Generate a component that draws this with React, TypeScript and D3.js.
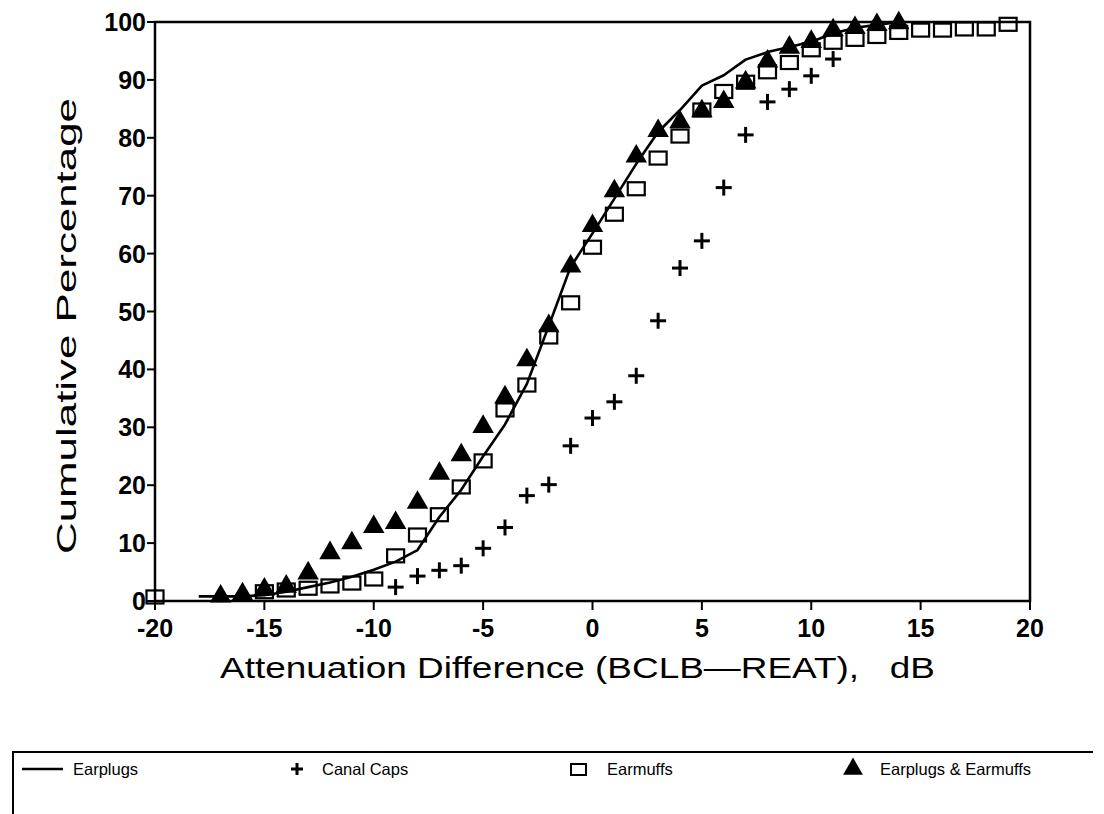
import React from "react";
import * as d3 from "d3";

// Earplugs: cumulative distribution drawn as a solid line
const earplugsX = [-18, -17, -16, -15, -14, -13, -12, -11, -10, -9, -8, -7, -6, -5, -4, -3, -2, -1, 0, 1, 2, 3, 4, 5, 6, 7, 8, 9, 10, 11, 12, 13, 14];
const earplugsY = [0.8, 0.8, 0.8, 1.0, 1.6, 2.4, 3.2, 4.2, 5.4, 6.8, 8.8, 14.5, 19.2, 25.0, 30.5, 37.5, 47.5, 57.7, 63.5, 69.5, 75.5, 81.0, 84.8, 89.0, 90.8, 93.5, 94.8, 95.7, 96.6, 98.0, 99.0, 99.5, 100];

// Canal caps: plus markers
const canalX = [-9, -8, -7, -6, -5, -4, -3, -2, -1, 0, 1, 2, 3, 4, 5, 6, 7, 8, 9, 10, 11];
const canalY = [2.4, 4.3, 5.3, 6.1, 9.1, 12.7, 18.2, 20.1, 26.8, 31.6, 34.4, 38.9, 48.4, 57.5, 62.2, 71.4, 80.5, 86.2, 88.4, 90.7, 93.6];

// Earmuffs: open squares
const earmuffsX = [-20, -15, -14, -13, -12, -11, -10, -9, -8, -7, -6, -5, -4, -3, -2, -1, 0, 1, 2, 3, 4, 5, 6, 7, 8, 9, 10, 11, 12, 13, 14, 15, 16, 17, 18, 19];
const earmuffsY = [0.7, 1.6, 1.9, 2.2, 2.6, 3.1, 3.8, 7.8, 11.4, 14.9, 19.7, 24.2, 33.0, 37.3, 45.6, 51.5, 61.1, 66.8, 71.2, 76.5, 80.3, 84.8, 88.0, 89.6, 91.4, 93.0, 95.2, 96.5, 97.0, 97.5, 98.2, 98.6, 98.6, 98.8, 98.8, 99.6];

// Earplugs & earmuffs combined: filled triangles
const comboX = [-17, -16, -15, -14, -13, -12, -11, -10, -9, -8, -7, -6, -5, -4, -3, -2, -1, 0, 1, 2, 3, 4, 5, 6, 7, 8, 9, 10, 11, 12, 13, 14];
const comboY = [0.8, 1.2, 2.0, 2.5, 4.8, 8.3, 10.0, 12.8, 13.5, 17.0, 22.0, 25.2, 30.1, 35.2, 41.6, 47.5, 57.8, 64.8, 70.8, 76.8, 81.2, 82.7, 84.6, 86.2, 89.6, 93.2, 95.6, 96.6, 98.6, 99.0, 99.5, 99.8];

const xTicks = [-20, -15, -10, -5, 0, 5, 10, 15, 20];
const yTicks = [0, 10, 20, 30, 40, 50, 60, 70, 80, 90, 100];

const legendItems = ["Earplugs", "Canal Caps", "Earmuffs", "Earplugs & Earmuffs"];

const W = 1104;
const H = 814;
const left = 155;
const right = 1030;
const top = 22;
const bottom = 601;

export default function App() {
  const x = d3.scaleLinear().domain([-20, 20]).range([left, right]);
  const y = d3.scaleLinear().domain([0, 100]).range([bottom, top]);

  const linePath = d3
    .line<number>()
    .x((_, i) => x(earplugsX[i]))
    .y((d) => y(d))(earplugsY) as string;

  const tri = d3.symbol().type(d3.symbolTriangle).size(200)() as string;
  const triSmall = d3.symbol().type(d3.symbolTriangle).size(170)() as string;

  const tickFont = "'Liberation Sans', Arial, sans-serif";
  const titleFont = "'Liberation Sans', Arial, sans-serif";

  const plus = (cx: number, cy: number, key: string, s = 8) => (
    <g key={key} stroke="#000" strokeWidth={3}>
      <line x1={cx - s} x2={cx + s} y1={cy} y2={cy} />
      <line x1={cx} x2={cx} y1={cy - s} y2={cy + s} />
    </g>
  );

  const legendY = 769;

  return (
    <svg
      width={W}
      height={H}
      viewBox={`0 0 ${W} ${H}`}
      style={{ position: "absolute", left: 0, top: 0, background: "#fff" }}
    >
      <rect x={0} y={0} width={W} height={H} fill="#fff" />

      {/* plot frame */}
      <rect
        x={left}
        y={top}
        width={right - left}
        height={bottom - top}
        fill="none"
        stroke="#000"
        strokeWidth={2.5}
      />

      {/* y axis ticks and labels */}
      {yTicks.map((t) => (
        <g key={`yt${t}`}>
          <line x1={left - 8} x2={left} y1={y(t)} y2={y(t)} stroke="#000" strokeWidth={2} />
          <text
            x={left - 9}
            y={y(t)}
            dy="0.36em"
            textAnchor="end"
            fontFamily={tickFont}
            fontWeight="bold"
            fontSize={25}
          >
            {t}
          </text>
        </g>
      ))}

      {/* x axis ticks and labels */}
      {xTicks.map((t) => (
        <g key={`xt${t}`}>
          <line x1={x(t)} x2={x(t)} y1={bottom} y2={bottom + 9} stroke="#000" strokeWidth={2} />
          <text
            x={x(t)}
            y={bottom + 36}
            textAnchor="middle"
            fontFamily={tickFont}
            fontWeight="bold"
            fontSize={25}
          >
            {t < 0 ? `-${Math.abs(t)}` : t}
          </text>
        </g>
      ))}

      {/* axis titles */}
      <text
        transform={`translate(66, 326) rotate(-90)`}
        textAnchor="middle"
        dy="0.35em"
        fontFamily={titleFont}
        fontSize={28}
        textLength={456}
        lengthAdjust="spacingAndGlyphs"
      >
        Cumulative Percentage
      </text>
      <text
        x={(220 + 935) / 2}
        y={668}
        dy="0.35em"
        textAnchor="middle"
        fontFamily={titleFont}
        fontSize={29}
        textLength={715}
        lengthAdjust="spacingAndGlyphs"
        style={{ whiteSpace: "pre" }}
      >
        {"Attenuation Difference (BCLB\u2014REAT),   dB"}
      </text>

      {/* earplugs line */}
      <path d={linePath} fill="none" stroke="#000" strokeWidth={2.6} strokeLinejoin="round" />

      {/* canal caps */}
      {canalY.map((v, i) => plus(x(canalX[i]), y(v), `c${i}`))}

      {/* earmuffs */}
      {earmuffsY.map((v, i) => (
        <rect
          key={`m${i}`}
          x={x(earmuffsX[i]) - 8.5}
          y={y(v) - 6.5}
          width={17}
          height={13}
          fill="none"
          stroke="#000"
          strokeWidth={2.2}
        />
      ))}

      {/* earplugs & earmuffs */}
      {comboY.map((v, i) => (
        <path key={`t${i}`} d={tri} transform={`translate(${x(comboX[i])},${y(v)})`} fill="#000" />
      ))}

      {/* legend */}
      <path
        d={`M13,${H + 4} L13,752 L1093,752`}
        fill="none"
        stroke="#000"
        strokeWidth={2}
      />
      <line x1={22} x2={63} y1={legendY} y2={legendY} stroke="#000" strokeWidth={2.5} />
      <text x={73} y={legendY} dy="0.35em" fontFamily={titleFont} fontSize={16.5}>
        {legendItems[0]}
      </text>
      {plus(297, legendY, "lp", 6)}
      <text x={322} y={legendY} dy="0.35em" fontFamily={titleFont} fontSize={16.5}>
        {legendItems[1]}
      </text>
      <rect x={571} y={legendY - 5} width={15} height={11} fill="none" stroke="#000" strokeWidth={2} />
      <text x={607} y={legendY} dy="0.35em" fontFamily={titleFont} fontSize={16.5}>
        {legendItems[2]}
      </text>
      <path d={triSmall} transform={`translate(853,${legendY})`} fill="#000" />
      <text x={880} y={legendY} dy="0.35em" fontFamily={titleFont} fontSize={16.5}>
        {legendItems[3]}
      </text>
    </svg>
  );
}
